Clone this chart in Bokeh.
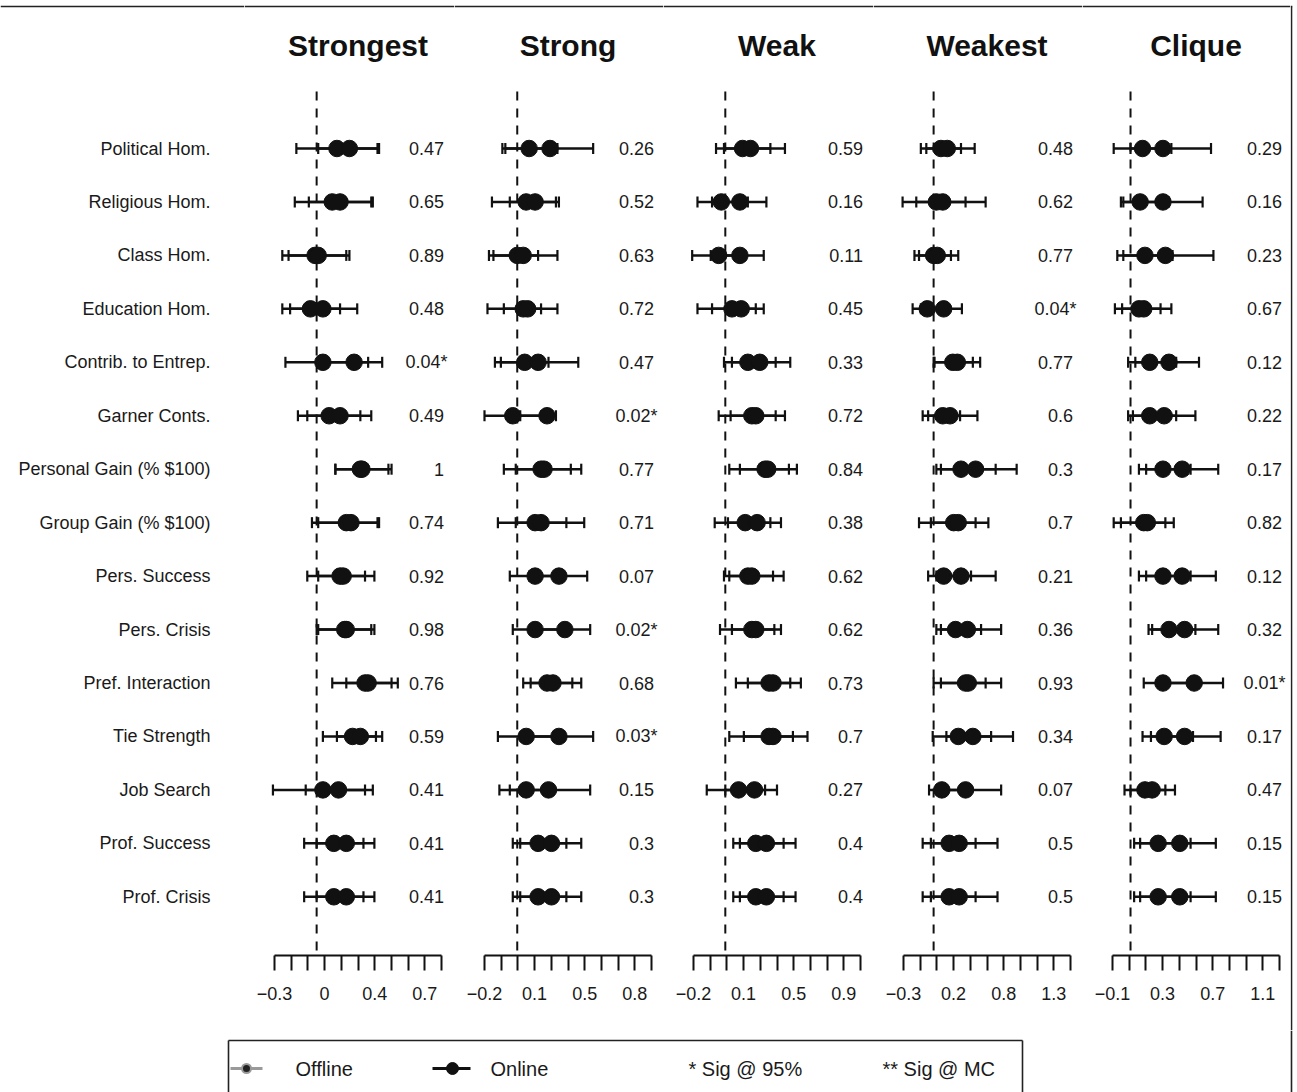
import numpy as np
from bokeh.plotting import figure
from bokeh.layouts import row, column
from bokeh.models import Range1d, FixedTicker, CustomJSTickFormatter, LinearAxis
from bokeh.core.properties import value
from bokeh.embed import file_html
from bokeh.resources import INLINE

# ---------------- data ----------------
panels = ["Strongest", "Strong", "Weak", "Weakest", "Clique"]
measures = ["Political Hom.", "Religious Hom.", "Class Hom.", "Education Hom.",
            "Contrib. to Entrep.", "Garner Conts.", "Personal Gain (% $100)",
            "Group Gain (% $100)", "Pers. Success", "Pers. Crisis",
            "Pref. Interaction", "Tie Strength", "Job Search",
            "Prof. Success", "Prof. Crisis"]

# axis: first tick, tick step (11 ticks), labels shown on every third tick
tick_start = {"Strongest": -0.27, "Strong": -0.22, "Weak": -0.24, "Weakest": -0.33, "Clique": -0.15}
tick_step = {"Strongest": 0.107, "Strong": 0.1122, "Weak": 0.126, "Weakest": 0.183, "Clique": 0.139}
tick_labels = {
    "Strongest": ["\u22120.3", "0", "0.4", "0.7"],
    "Strong": ["\u22120.2", "0.1", "0.5", "0.8"],
    "Weak": ["\u22120.2", "0.1", "0.5", "0.9"],
    "Weakest": ["\u22120.3", "0.2", "0.8", "1.3"],
    "Clique": ["\u22120.1", "0.3", "0.7", "1.1"],
}

off_mean = {
    "Strongest": [0.13, 0.10, -0.01, -0.04, 0.04, 0.08, 0.28, 0.19, 0.15, 0.18, 0.31, 0.23, 0.04, 0.11, 0.11],
    "Strong": [0.08, 0.06, 0.00, 0.04, 0.05, -0.03, 0.16, 0.12, 0.12, 0.12, 0.20, 0.06, 0.06, 0.14, 0.14],
    "Weak": [0.13, -0.03, -0.05, 0.05, 0.17, 0.20, 0.30, 0.15, 0.17, 0.20, 0.33, 0.33, 0.10, 0.23, 0.23],
    "Weakest": [0.08, 0.03, 0.00, -0.07, 0.21, 0.10, 0.30, 0.22, 0.11, 0.24, 0.35, 0.27, 0.09, 0.17, 0.17],
    "Clique": [0.10, 0.08, 0.12, 0.07, 0.16, 0.16, 0.27, 0.11, 0.27, 0.32, 0.27, 0.28, 0.12, 0.23, 0.23],
}
off_lo = {
    "Strongest": [-0.13, -0.14, -0.22, -0.22, -0.20, -0.12, 0.12, -0.03, -0.06, 0.00, 0.10, 0.04, -0.28, -0.08, -0.08],
    "Strong": [-0.10, -0.17, -0.19, -0.20, -0.15, -0.22, -0.09, -0.13, -0.05, -0.03, 0.04, -0.13, -0.12, -0.03, -0.03],
    "Weak": [-0.07, -0.21, -0.25, -0.21, -0.01, -0.05, 0.03, -0.08, -0.01, -0.04, 0.08, 0.03, -0.14, 0.06, 0.06],
    "Weakest": [-0.14, -0.34, -0.21, -0.23, 0.00, -0.12, 0.03, -0.16, -0.06, 0.03, 0.00, -0.01, -0.05, -0.12, -0.12],
    "Clique": [-0.14, -0.08, -0.11, -0.13, -0.02, -0.02, 0.07, -0.14, 0.07, 0.15, 0.11, 0.10, -0.05, 0.03, 0.03],
}
off_hi = {
    "Strongest": [0.39, 0.35, 0.19, 0.15, 0.33, 0.28, 0.46, 0.39, 0.31, 0.35, 0.48, 0.38, 0.31, 0.30, 0.30],
    "Strong": [0.27, 0.26, 0.14, 0.16, 0.21, 0.16, 0.36, 0.33, 0.29, 0.29, 0.37, 0.26, 0.24, 0.33, 0.33],
    "Weak": [0.34, 0.17, 0.15, 0.23, 0.38, 0.38, 0.48, 0.34, 0.36, 0.37, 0.49, 0.51, 0.30, 0.44, 0.44],
    "Weakest": [0.30, 0.35, 0.19, 0.14, 0.43, 0.29, 0.68, 0.46, 0.41, 0.52, 0.57, 0.63, 0.35, 0.46, 0.46],
    "Clique": [0.34, 0.32, 0.35, 0.25, 0.38, 0.38, 0.50, 0.29, 0.50, 0.54, 0.50, 0.52, 0.29, 0.50, 0.50],
}
on_mean = {
    "Strongest": [0.21, 0.15, 0.01, 0.04, 0.24, 0.15, 0.29, 0.22, 0.17, 0.19, 0.33, 0.28, 0.14, 0.19, 0.19],
    "Strong": [0.22, 0.12, 0.04, 0.07, 0.14, 0.20, 0.18, 0.16, 0.28, 0.32, 0.24, 0.28, 0.21, 0.23, 0.23],
    "Weak": [0.19, 0.11, 0.11, 0.12, 0.26, 0.23, 0.32, 0.24, 0.20, 0.23, 0.36, 0.36, 0.22, 0.31, 0.31],
    "Weakest": [0.15, 0.10, 0.04, 0.11, 0.26, 0.18, 0.46, 0.27, 0.30, 0.37, 0.38, 0.43, 0.35, 0.28, 0.28],
    "Clique": [0.27, 0.27, 0.29, 0.11, 0.32, 0.28, 0.43, 0.14, 0.43, 0.45, 0.53, 0.45, 0.18, 0.41, 0.41],
}
on_lo = {
    "Strongest": [0.01, -0.05, -0.18, -0.17, 0.07, -0.06, 0.12, 0.01, 0.01, 0.01, 0.19, 0.13, -0.07, 0.00, 0.00],
    "Strong": [-0.08, -0.05, -0.16, -0.09, -0.11, 0.02, -0.01, -0.01, 0.08, 0.14, 0.09, 0.06, -0.05, 0.02, 0.02],
    "Weak": [-0.01, -0.10, -0.11, -0.10, 0.05, 0.04, 0.11, 0.02, 0.03, 0.05, 0.17, 0.14, 0.00, 0.11, 0.11],
    "Weakest": [-0.08, -0.19, -0.16, -0.14, 0.01, -0.06, 0.08, -0.03, 0.03, 0.08, 0.08, 0.14, 0.03, -0.03, -0.03],
    "Clique": [0.00, -0.06, -0.06, -0.07, 0.04, 0.02, 0.13, -0.08, 0.13, 0.18, 0.23, 0.17, 0.00, 0.08, 0.08],
}
on_hi = {
    "Strongest": [0.40, 0.36, 0.21, 0.26, 0.42, 0.35, 0.48, 0.40, 0.37, 0.37, 0.52, 0.42, 0.36, 0.37, 0.37],
    "Strong": [0.51, 0.28, 0.27, 0.27, 0.41, 0.26, 0.43, 0.45, 0.47, 0.49, 0.43, 0.51, 0.49, 0.43, 0.43],
    "Weak": [0.45, 0.31, 0.29, 0.29, 0.49, 0.45, 0.54, 0.42, 0.44, 0.42, 0.57, 0.62, 0.39, 0.53, 0.53],
    "Weakest": [0.45, 0.57, 0.27, 0.31, 0.51, 0.48, 0.91, 0.60, 0.68, 0.74, 0.74, 0.87, 0.74, 0.70, 0.70],
    "Clique": [0.67, 0.60, 0.69, 0.34, 0.57, 0.54, 0.73, 0.36, 0.71, 0.73, 0.77, 0.75, 0.37, 0.71, 0.71],
}
p_values = {
    "Strongest": ["0.47", "0.65", "0.89", "0.48", "0.04*", "0.49", "1", "0.74", "0.92", "0.98", "0.76", "0.59", "0.41", "0.41", "0.41"],
    "Strong": ["0.26", "0.52", "0.63", "0.72", "0.47", "0.02*", "0.77", "0.71", "0.07", "0.02*", "0.68", "0.03*", "0.15", "0.3", "0.3"],
    "Weak": ["0.59", "0.16", "0.11", "0.45", "0.33", "0.72", "0.84", "0.38", "0.62", "0.62", "0.73", "0.7", "0.27", "0.4", "0.4"],
    "Weakest": ["0.48", "0.62", "0.77", "0.04*", "0.77", "0.6", "0.3", "0.7", "0.21", "0.36", "0.93", "0.34", "0.07", "0.5", "0.5"],
    "Clique": ["0.29", "0.16", "0.23", "0.67", "0.12", "0.22", "0.17", "0.82", "0.12", "0.32", "0.01*", "0.17", "0.47", "0.15", "0.15"],
}

# ---------------- layout constants ----------------
FONT = "Liberation Sans"
ROW0, ROW_GAP = 148.0, 53.45       # pixel position of first row, row spacing
FRAME_H, BOTTOM = 955, 75
LABEL_W = 244
PANEL_W = [210, 209, 210, 209, 208]
AXIS_OFF, AXIS_LEN = 30.0, 167.0


def ry(px):
    return 1 + (px - ROW0) / ROW_GAP


rows_y = list(range(1, len(measures) + 1))


def base_fig(w, xr):
    p = figure(frame_width=w, frame_height=FRAME_H, x_range=xr,
               y_range=Range1d(ry(FRAME_H), ry(0)),
               toolbar_location=None, output_backend="svg",
               min_border_left=0, min_border_right=0, min_border_top=0,
               min_border_bottom=BOTTOM, x_axis_location=None, y_axis_location=None)
    p.outline_line_color = None
    p.background_fill_color = "white"
    p.border_fill_color = "white"
    p.xgrid.visible = False
    p.ygrid.visible = False
    return p


# label figure
lab = base_fig(LABEL_W, Range1d(0, LABEL_W))
lab.text(x=[210] * len(measures), y=rows_y, text=measures, text_font=value(FONT),
         text_font_size="18px", text_align="right", text_baseline="middle", text_color="#1a1a1a")
lab.segment(x0=[0], y0=[ry(6)], x1=[LABEL_W], y1=[ry(6)], line_color="#222222", line_width=1.6)

figs = [lab]
for k, name in enumerate(panels):
    w = PANEL_W[k]
    t0, st = tick_start[name], tick_step[name]
    ticks = [t0 + i * st for i in range(11)]
    s = AXIS_LEN / (ticks[-1] - ticks[0])  # pixels per unit
    a = ticks[0] - AXIS_OFF / s
    b = a + w / s
    p = base_fig(w, Range1d(a, b))

    # top frame line
    p.segment(x0=[a], y0=[ry(6)], x1=[b], y1=[ry(6)], line_color="#222222", line_width=1.6)
    # title
    p.text(x=[(ticks[0] + ticks[-1]) / 2], y=[ry(45)], text=[name], text_font=value(FONT),
           text_font_size="30px", text_font_style="bold", text_align="center",
           text_baseline="middle", text_color="#111111")
    # zero reference
    p.segment(x0=[0], y0=[ry(91)], x1=[0], y1=[ry(FRAME_H)], line_color="#111111",
              line_width=2, line_dash="9 8")

    for lo, hi in ((off_lo, off_hi), (on_lo, on_hi)):
        p.segment(x0=lo[name], y0=rows_y, x1=hi[name], y1=rows_y, line_color="#111111", line_width=2.5)
        p.scatter(x=lo[name] + hi[name], y=rows_y + rows_y, marker="dash", angle=np.pi / 2,
                  size=11, line_color="#111111", line_width=2.2)
    for mn in (off_mean, on_mean):
        p.scatter(x=mn[name], y=rows_y, size=16.5, fill_color="#111111", line_color="#111111")

    # p-values (starred values right-aligned as a whole, slightly further right)
    xt = ticks[-1] + 2.5 / s
    plain_y = [r for r, v in zip(rows_y, p_values[name]) if not v.endswith("*")]
    plain_t = [v for v in p_values[name] if not v.endswith("*")]
    star_y = [r for r, v in zip(rows_y, p_values[name]) if v.endswith("*")]
    star_t = [v for v in p_values[name] if v.endswith("*")]
    p.text(x=[xt] * len(plain_t), y=plain_y, text=plain_t, text_font=value(FONT), text_font_size="18px",
           text_align="right", text_baseline="middle", text_color="#1a1a1a")
    p.text(x=[xt + 3.5 / s] * len(star_t), y=star_y, text=star_t, text_font=value(FONT),
           text_font_size="18px", text_align="right", text_baseline="middle", text_color="#1a1a1a")

    labels11 = [""] * 11
    for j, lbl in enumerate(tick_labels[name]):
        labels11[3 * j] = lbl
    ax = LinearAxis(ticker=FixedTicker(ticks=ticks, minor_ticks=[]),
                    formatter=CustomJSTickFormatter(args=dict(labels=labels11),
                                                    code="return labels[index];"),
                    bounds=(ticks[0], ticks[-1]))
    ax.axis_line_width = 2
    ax.axis_line_color = "#111111"
    ax.major_tick_line_width = 2
    ax.major_tick_line_color = "#111111"
    ax.major_tick_in = 0
    ax.major_tick_out = 15
    ax.minor_tick_line_color = None
    ax.major_label_standoff = 16
    ax.major_label_text_font = FONT
    ax.major_label_text_font_size = "18px"
    ax.major_label_text_color = "#1a1a1a"
    p.add_layout(ax, "below")
    figs.append(p)

# right border strip
edge = figure(frame_width=7, frame_height=FRAME_H + BOTTOM, x_range=Range1d(0, 7),
              y_range=Range1d(FRAME_H + BOTTOM, 0), toolbar_location=None, output_backend="svg",
              min_border_left=0, min_border_right=0, min_border_top=0, min_border_bottom=0,
              x_axis_location=None, y_axis_location=None)
edge.outline_line_color = None
edge.xgrid.visible = False
edge.ygrid.visible = False
edge.segment(x0=[1], y0=[6], x1=[1], y1=[FRAME_H + BOTTOM], line_color="#222222", line_width=1.6)
edge.segment(x0=[0], y0=[6], x1=[1.8], y1=[6], line_color="#222222", line_width=1.6)
figs.append(edge)

# legend strip (pixel coordinates)
leg = figure(frame_width=1297, frame_height=62, x_range=Range1d(0, 1297), y_range=Range1d(62, 0),
             toolbar_location=None, output_backend="svg",
             min_border_left=0, min_border_right=0, min_border_top=0, min_border_bottom=0,
             x_axis_location=None, y_axis_location=None)
leg.outline_line_color = None
leg.xgrid.visible = False
leg.ygrid.visible = False
leg.segment(x0=[228, 228, 1022, 1291], y0=[10, 10, 10, 0], x1=[1022, 228, 1022, 1291],
            y1=[10, 62, 62, 62], line_color="#222222", line_width=1.6)
leg.segment(x0=[230], y0=[38], x1=[262], y1=[38], line_color="#9a9a9a", line_width=3)
leg.scatter(x=[246], y=[38], size=9, fill_color="#222222", line_color="#9a9a9a", line_width=2)
leg.segment(x0=[432], y0=[38], x1=[470], y1=[38], line_color="#111111", line_width=3)
leg.scatter(x=[452], y=[38], size=12, fill_color="#111111", line_color="#111111")
leg.text(x=[295, 490, 688, 882], y=[38] * 4,
         text=["Offline", "Online", "*  Sig @ 95%", "**  Sig @ MC"],
         text_font=value(FONT), text_font_size="20px", text_align="left",
         text_baseline="middle", text_color="#1a1a1a")

layout = column(row(*figs, spacing=0), leg, spacing=0)
open("out.html", "w").write(file_html(layout, INLINE))
